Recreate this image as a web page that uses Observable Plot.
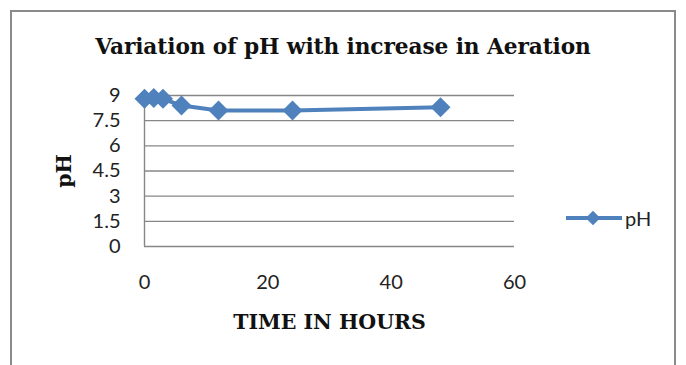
<!DOCTYPE html>
<html>
<head>
<meta charset="utf-8">
<script src="https://cdn.jsdelivr.net/npm/d3@7"></script>
<script src="https://cdn.jsdelivr.net/npm/@observablehq/plot@0.6"></script>
<style>
  html, body { margin: 0; padding: 0; background: #fff; }
  #wrap { position: relative; width: 686px; height: 365px; overflow: hidden; background: #fff; }
  #frame { position: absolute; left: 10px; top: 10px; width: 666px; height: 420px; border: 2px solid #8a8a8a; box-sizing: border-box; }
  #chart { position: absolute; left: 0; top: 0; }
  #title { position: absolute; left: 0; width: 686px; top: 36px; text-align: center;
           font: bold 21.7px "DejaVu Serif"; line-height: 1; color: #111; white-space: nowrap; letter-spacing: -0.1px; }
  #legend { position: absolute; left: 566px; top: 207px; height: 22px; display: flex; align-items: center; }
  #legend span { font: 20px Lato; color: #222; margin-left: 3px; }
  [aria-label="y-axis label"] text, [aria-label="x-axis label"] text { font: bold 20.5px "DejaVu Serif"; fill: #111; }
  [aria-label="y-axis tick label"] text, [aria-label="x-axis tick label"] text { font: 20px Lato; fill: #222; }
</style>
</head>
<body>
<div id="wrap">
  <div id="frame"></div>
  <div id="chart"></div>
  <div id="title"></div>
  <div id="legend"></div>
</div>
<script>
const titleText = "Variation of pH with increase in Aeration";
const xLabel = "TIME IN HOURS";
const yLabel = "pH";
const seriesName = "pH";
const hours = [0, 1.5, 3, 6, 12, 24, 48];
const phValues = [8.8, 8.85, 8.8, 8.4, 8.1, 8.1, 8.3];
const yTicks = [0, 1.5, 3, 4.5, 6, 7.5, 9];
const xTicks = [0, 20, 40, 60];

const blue = "#4F81BD";
const grid = "#878787";
const data = hours.map((h, i) => ({hour: h, ph: phValues[i]}));

document.getElementById("title").textContent = titleText;

const chart = Plot.plot({
  width: 686,
  height: 365,
  marginLeft: 144,
  marginRight: 172,
  marginTop: 95,
  marginBottom: 119,
  style: {background: "transparent", overflow: "visible"},
  x: {domain: [0, 60], ticks: xTicks, tickFormat: d => String(d), tickSize: 0, tickPadding: 28, label: xLabel, labelAnchor: "center", labelArrow: "none", labelOffset: 82},
  y: {domain: [0, 9], ticks: yTicks, tickFormat: d => String(d), tickSize: 0, tickPadding: 24, label: yLabel, labelAnchor: "center", labelArrow: "none", labelOffset: 88},
  marks: [
    Plot.ruleY(yTicks, {stroke: grid, strokeWidth: 1.4}),
    Plot.ruleX([0], {y1: 0, y2: 9, stroke: grid, strokeWidth: 1.4}),
    Plot.line(data, {x: "hour", y: "ph", stroke: blue, strokeWidth: 4}),
    Plot.dot(data, {x: "hour", y: "ph", symbol: "diamond2", r: 9, fill: blue, stroke: "none"})
  ]
});
document.getElementById("chart").appendChild(chart);

// legend swatch
const leg = d3.select("#legend");
const sw = leg.append("svg").attr("width", 56).attr("height", 22);
sw.append("line").attr("x1", 0).attr("x2", 56).attr("y1", 11).attr("y2", 11)
  .attr("stroke", blue).attr("stroke-width", 4);
sw.append("path").attr("transform", "translate(27,11)")
  .attr("d", d3.symbol(d3.symbolDiamond2, 6.5 * 6.5 * Math.PI)()).attr("fill", blue);
leg.append("span").text(seriesName);
</script>
</body>
</html>
